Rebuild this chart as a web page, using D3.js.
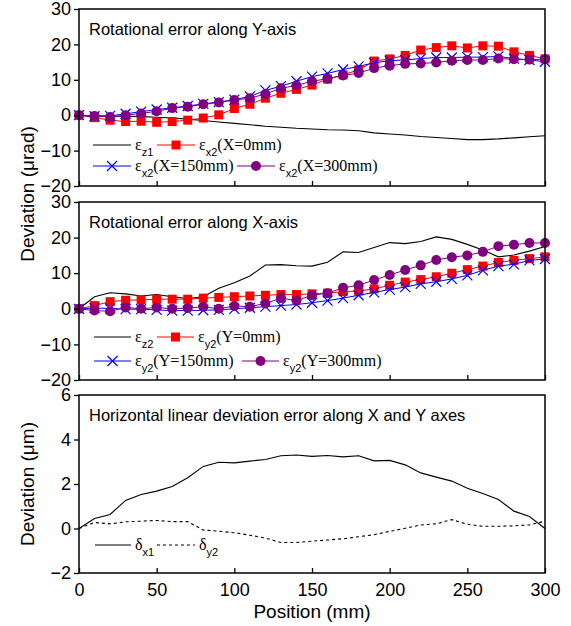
<!DOCTYPE html>
<html>
<head>
<meta charset="utf-8">
<script src="https://cdn.jsdelivr.net/npm/d3@7"></script>
<style>
  body { margin: 0; background: #fff; }
  svg { display: block; }
  .tick text { font-family: "Liberation Sans", Arial, sans-serif; }
</style>
</head>
<body>
<div id="chart"></div>
<script>
// positions along the axis (mm)
var positions = [0, 10, 20, 30, 40, 50, 60, 70, 80, 90, 100, 110, 120, 130, 140, 150,
  160, 170, 180, 190, 200, 210, 220, 230, 240, 250, 260, 270, 280, 290, 300];

// panel 1: rotational error along Y-axis (urad)
var epsZ1 = [0, -0.2, -0.3, -0.3, -0.4, -0.6, -0.8, -1.1, -1.5, -1.9, -2.3, -2.7, -3.1, -3.4, -3.7, -3.9,
  -4.1, -4.2, -4.4, -5.0, -5.3, -5.6, -6.0, -6.3, -6.6, -6.9, -6.9, -6.7, -6.4, -6.1, -5.8];
var epsX2_X0 = [0, -0.7, -1.4, -1.8, -1.7, -2.0, -1.8, -1.4, -0.8, 0.1, 1.9, 3.1, 4.8, 6.2, 7.3, 8.5,
  10.2, 11.4, 12.8, 15.3, 15.9, 16.9, 18.4, 19.1, 19.6, 19.0, 19.6, 19.5, 17.9, 16.9, 15.9];
var epsX2_X150 = [0, -0.3, -0.2, 0.4, 1.0, 1.6, 2.1, 2.6, 3.2, 3.7, 4.4, 5.3, 7.0, 8.2, 9.6, 10.9,
  11.8, 12.9, 13.8, 14.8, 15.4, 15.6, 16.0, 16.3, 16.3, 16.4, 16.4, 16.6, 16.0, 15.6, 15.1];
var epsX2_X300 = [0, -0.2, -0.5, 0, 0.5, 1.1, 2.0, 2.4, 3.1, 3.6, 4.3, 4.8, 6.0, 7.6, 8.4, 9.6,
  10.3, 11.2, 11.9, 13.3, 14.0, 14.5, 14.6, 14.9, 15.4, 15.6, 15.6, 16.0, 15.8, 15.7, 15.8];

// panel 2: rotational error along X-axis (urad)
var epsZ2 = [0, 3.4, 4.5, 4.2, 3.6, 4.0, 3.4, 2.9, 3.4, 5.8, 7.3, 9.2, 12.3, 12.4, 12.1, 12.0,
  13.1, 16.0, 15.8, 17.2, 18.6, 18.3, 18.9, 20.2, 19.5, 18.1, 16.5, 14.6, 15.1, 16.2, 17.5];
var epsY2_Y0 = [0, 0.9, 2.0, 2.4, 2.5, 2.7, 2.7, 2.7, 3.0, 3.2, 3.4, 3.6, 3.8, 4.0, 4.0, 4.2,
  4.4, 4.8, 5.0, 5.6, 6.6, 7.5, 8.2, 9.0, 10.0, 11.0, 12.0, 13.0, 13.6, 14.1, 14.6];
var epsY2_Y150 = [0, 0.2, 0.1, -0.1, -0.1, -0.3, -0.5, -0.5, -0.4, -0.3, 0, 0.3, 0.6, 0.9, 1.2, 1.7,
  2.3, 3.0, 3.8, 4.6, 5.4, 6.1, 7.0, 7.6, 8.4, 9.4, 10.8, 12.0, 12.5, 13.6, 14.0];
var epsY2_Y300 = [0, -0.5, -0.7, 0.4, 0, 0.4, 0, 0.2, 0.6, 0, 0.8, 0.6, 1.5, 3.0, 2.3, 3.8,
  4.4, 5.9, 6.6, 8.1, 9.5, 10.9, 12.2, 13.7, 14.5, 15.0, 16.0, 17.6, 18.0, 18.5, 18.5];

// panel 3: horizontal linear deviation (um)
var deltaX1 = [0, 0.45, 0.63, 1.26, 1.53, 1.68, 1.89, 2.28, 2.79, 2.98, 2.95, 3.03, 3.10, 3.27, 3.30, 3.24,
  3.28, 3.22, 3.27, 3.04, 3.06, 2.86, 2.50, 2.31, 2.13, 1.81, 1.57, 1.30, 0.78, 0.54, 0];
var deltaY2 = [0, 0.27, 0.21, 0.30, 0.33, 0.36, 0.31, 0.31, -0.07, -0.12, -0.19, -0.30, -0.43, -0.63, -0.63, -0.57,
  -0.52, -0.46, -0.37, -0.28, -0.13, 0.01, 0.16, 0.21, 0.40, 0.19, 0.10, 0.10, 0.12, 0.16, 0.33];

var xTicks = [0, 50, 100, 150, 200, 250, 300];
var yTicksRot = [30, 20, 10, 0, -10, -20];
var yTicksLin = [6, 4, 2, 0, -2];

var W = 571, H = 626;
var svg = d3.select("#chart").append("svg").attr("width", W).attr("height", H);

var x = d3.scaleLinear().domain([0, 300]).range([79, 545]);

var sans = "'Liberation Sans', Arial, sans-serif";
var serif = "'Liberation Serif', 'Times New Roman', serif";

function drawPanel(p) {
  var y = d3.scaleLinear().domain(p.domain).range([p.bottom, p.top]);
  var g = svg.append("g");

  // lines + markers
  p.series.forEach(function(s) {
    var line = d3.line()
      .x(function(d, i) { return x(positions[i]); })
      .y(function(d) { return y(d); });
    g.append("path")
      .datum(s.values)
      .attr("fill", "none")
      .attr("stroke", s.color)
      .attr("stroke-width", s.marker ? 1 : 1.1)
      .attr("stroke-dasharray", s.dash || null)
      .attr("d", line);
    if (s.marker) {
      s.values.forEach(function(v, i) {
        drawMarker(g, s.marker, x(positions[i]), y(v), s.color);
      });
    }
  });

  // axes
  g.append("g")
    .attr("transform", "translate(0," + p.bottom + ")")
    .call(d3.axisBottom(x).tickValues(xTicks).tickSizeInner(-5).tickSizeOuter(0)
      .tickFormat(p.xLabels ? d3.format("d") : ""))
    .call(function(a) {
      a.select(".domain").remove();
      a.selectAll("line").attr("stroke-width", 1.3);
      a.selectAll("text").attr("font-size", 18).attr("dy", "1.1em").attr("y", 3);
    });
  g.append("g")
    .attr("transform", "translate(79,0)")
    .call(d3.axisLeft(y).tickValues(p.yTicks).tickSize(5).tickPadding(3))
    .call(function(a) {
      a.select(".domain").remove();
      a.selectAll("line").attr("stroke-width", 1.3);
      a.selectAll("text").attr("font-size", 18);
    });

  g.append("rect")
    .attr("x", 79).attr("y", p.top)
    .attr("width", 545 - 79).attr("height", p.bottom - p.top)
    .attr("fill", "none").attr("stroke", "#000").attr("stroke-width", 1.5);

  g.append("text")
    .attr("x", 89).attr("y", p.top + 26)
    .attr("font-family", sans).attr("font-size", 16.5)
    .text(p.title);

  // legend
  p.legend.forEach(function(l) {
    var s = p.series[l.idx];
    g.append("line")
      .attr("x1", l.x).attr("x2", l.x + l.len)
      .attr("y1", l.y).attr("y2", l.y)
      .attr("stroke", s.color).attr("stroke-width", 1.1)
      .attr("stroke-dasharray", s.dash || null);
    if (s.marker) drawMarker(g, s.marker, l.x + l.len / 2, l.y, s.color);
    var t = g.append("text")
      .attr("x", l.x + l.len + 4).attr("y", l.y + 5)
      .attr("font-family", serif).attr("font-size", 16);
    t.append("tspan").text(l.sym);
    t.append("tspan").attr("font-family", sans).attr("font-size", 11).attr("dy", 6).text(l.sub);
    if (l.rest) t.append("tspan").attr("dy", -6).text(l.rest);
  });
}

function drawMarker(g, type, cx, cy, color) {
  if (type === "square") {
    g.append("rect").attr("x", cx - 4.5).attr("y", cy - 4.5)
      .attr("width", 9).attr("height", 9).attr("fill", color);
  } else if (type === "circle") {
    g.append("circle").attr("cx", cx).attr("cy", cy).attr("r", 5).attr("fill", color);
  } else if (type === "cross") {
    g.append("path")
      .attr("d", "M" + (cx - 5) + "," + (cy - 5) + "L" + (cx + 5) + "," + (cy + 5) +
        "M" + (cx - 5) + "," + (cy + 5) + "L" + (cx + 5) + "," + (cy - 5))
      .attr("stroke", color).attr("stroke-width", 1.2).attr("fill", "none");
  }
}

drawPanel({
  top: 9, bottom: 186, domain: [-20, 30], yTicks: yTicksRot, xLabels: false,
  title: "Rotational error along Y-axis",
  series: [
    { values: epsZ1, color: "#000" },
    { values: epsX2_X0, color: "#ff0000", marker: "square" },
    { values: epsX2_X150, color: "#0000ff", marker: "cross" },
    { values: epsX2_X300, color: "#800080", marker: "circle" }
  ],
  legend: [
    { idx: 0, x: 93, y: 145, len: 38, sym: "\u03b5", sub: "z1" },
    { idx: 1, x: 157, y: 145, len: 38, sym: "\u03b5", sub: "x2", rest: "(X=0mm)" },
    { idx: 2, x: 93, y: 166, len: 38, sym: "\u03b5", sub: "x2", rest: "(X=150mm)" },
    { idx: 3, x: 237, y: 166, len: 38, sym: "\u03b5", sub: "x2", rest: "(X=300mm)" }
  ]
});

drawPanel({
  top: 202, bottom: 380, domain: [-20, 30], yTicks: yTicksRot, xLabels: false,
  title: "Rotational error along X-axis",
  series: [
    { values: epsZ2, color: "#000" },
    { values: epsY2_Y0, color: "#ff0000", marker: "square" },
    { values: epsY2_Y150, color: "#0000ff", marker: "cross" },
    { values: epsY2_Y300, color: "#800080", marker: "circle" }
  ],
  legend: [
    { idx: 0, x: 94, y: 337, len: 37, sym: "\u03b5", sub: "z2" },
    { idx: 1, x: 157, y: 337, len: 37, sym: "\u03b5", sub: "y2", rest: "(Y=0mm)" },
    { idx: 2, x: 94, y: 361, len: 37, sym: "\u03b5", sub: "y2", rest: "(Y=150mm)" },
    { idx: 3, x: 242, y: 361, len: 37, sym: "\u03b5", sub: "y2", rest: "(Y=300mm)" }
  ]
});

drawPanel({
  top: 395, bottom: 573, domain: [-2, 6], yTicks: yTicksLin, xLabels: true,
  title: "Horizontal linear deviation error along X and Y axes",
  series: [
    { values: deltaX1, color: "#000" },
    { values: deltaY2, color: "#000", dash: "3,3" }
  ],
  legend: [
    { idx: 0, x: 95, y: 545, len: 36, sym: "\u03b4", sub: "x1" },
    { idx: 1, x: 157, y: 545, len: 38, sym: "\u03b4", sub: "y2" }
  ]
});

// axis titles
svg.append("text")
  .attr("transform", "translate(34,194) rotate(-90)")
  .attr("text-anchor", "middle")
  .attr("font-family", sans).attr("font-size", 19)
  .text("Deviation (\u03bcrad)");
svg.append("text")
  .attr("transform", "translate(34,484) rotate(-90)")
  .attr("text-anchor", "middle")
  .attr("font-family", sans).attr("font-size", 19)
  .text("Deviation (\u03bcm)");
svg.append("text")
  .attr("x", 312).attr("y", 618)
  .attr("text-anchor", "middle")
  .attr("font-family", sans).attr("font-size", 19)
  .text("Position (mm)");
</script>
</body>
</html>
